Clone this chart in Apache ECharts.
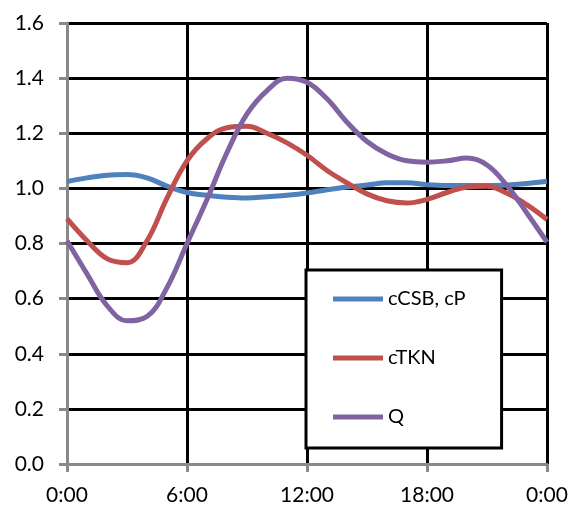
<!DOCTYPE html>
<html>
<head>
<meta charset="utf-8">
<script src="https://cdn.jsdelivr.net/npm/echarts@6/dist/echarts.min.js"></script>
<style>
  html, body { margin: 0; padding: 0; background: #fff; }
  #chart { width: 572px; height: 506px; }
</style>
</head>
<body>
<div id="chart"></div>
<script>
// hours of the day, 0..24
const hours = [0, 1, 2, 3, 4, 5, 6, 7, 8, 9, 10, 11, 12, 13, 14, 15, 16, 17, 18, 19, 20, 21, 22, 23, 24]

const seriesNames = ["cCSB, cP", "cTKN", "Q"]
const cCSB = [1.025, 1.038, 1.048, 1.05, 1.038, 1.008, 0.985, 0.975, 0.968, 0.965, 0.97, 0.975, 0.983, 0.995, 1.005, 1.012, 1.02, 1.02, 1.013, 1.01, 1.01, 1.01, 1.012, 1.018, 1.026]
const cTKN = [0.89, 0.81, 0.745, 0.73, 0.81, 0.965, 1.1, 1.18, 1.22, 1.225, 1.2, 1.165, 1.12, 1.065, 1.02, 0.98, 0.955, 0.947, 0.96, 0.985, 1.005, 1.008, 0.982, 0.94, 0.887]
const Q = [0.81, 0.69, 0.575, 0.52, 0.535, 0.64, 0.8, 0.96, 1.13, 1.27, 1.355, 1.4, 1.385, 1.325, 1.24, 1.17, 1.125, 1.1, 1.095, 1.1, 1.11, 1.085, 1.01, 0.91, 0.805]

const xTicks = ["0:00", "6:00", "12:00", "18:00", "0:00"]
const colors = ["#4f81bd", "#c0504d", "#8064a2"]

const font = "Lato, 'Open Sans', sans-serif"

function pairs(values) {
  return hours.map((h, i) => [h, values[i]])
}

const chart = echarts.init(document.getElementById("chart"))

function axisStyle() {
  return {
    axisLine: { show: true, lineStyle: { color: "#898989", width: 3 } },
    axisTick: { show: true, inside: false, length: 8, lineStyle: { color: "#898989", width: 3 } },
    splitLine: { show: true, lineStyle: { color: "#000", width: 3 } },
  }
}

chart.setOption({
  animation: false,
  color: colors,
  grid: { left: 67, right: 25, top: 23, bottom: 41 },
  xAxis: {
    type: "value",
    min: 0,
    max: 24,
    interval: 6,
    ...axisStyle(),
    axisLabel: {
      margin: 21,
      fontSize: 21,
      fontFamily: font,
      color: "#000",
      formatter: (v) => xTicks[Math.round(v / 6)],
    },
  },
  yAxis: {
    type: "value",
    min: 0,
    max: 1.6,
    interval: 0.2,
    ...axisStyle(),
    axisLabel: {
      margin: 23,
      fontSize: 21,
      fontFamily: font,
      color: "#000",
      formatter: (v) => v.toFixed(1),
    },
  },
  legend: {
    orient: "vertical",
    left: 306,
    top: 270,
    icon: "rect",
    itemWidth: 50,
    itemHeight: 5,
    itemGap: 39,
    padding: [19, 36, 21, 27],
    backgroundColor: "#fff",
    borderColor: "#000",
    borderWidth: 3,
    borderRadius: 0,
    data: seriesNames,
    textStyle: { fontSize: 20, fontFamily: font, color: "#000", lineHeight: 20 },
  },
  series: [
    { name: seriesNames[0], data: pairs(cCSB) },
    { name: seriesNames[1], data: pairs(cTKN) },
    { name: seriesNames[2], data: pairs(Q) },
  ].map((s, i) => ({
    ...s,
    type: "line",
    smooth: 0.4,
    showSymbol: false,
    lineStyle: { width: 5, color: colors[i] },
    itemStyle: { color: colors[i] },
  })),
})
</script>
</body>
</html>
